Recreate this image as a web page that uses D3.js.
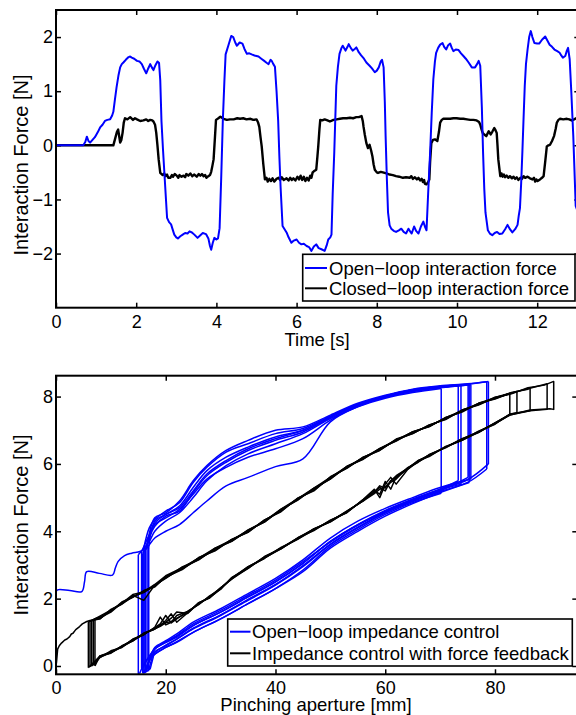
<!DOCTYPE html>
<html>
<head>
<meta charset="utf-8">
<script src="https://cdn.jsdelivr.net/npm/d3@7/dist/d3.min.js"></script>
<style>
  html, body { margin: 0; padding: 0; background: #fff; }
  svg { display: block; font-family: "Liberation Sans", Arial, Helvetica, sans-serif; }
</style>
</head>
<body>
<svg id="fig" width="576" height="715"></svg>
<script>
// ---------------- Upper panel: interaction force over time ----------------
const timeTicks = [0, 2, 4, 6, 8, 10, 12];
const forceTicksTop = [-2, -1, 0, 1, 2];
const topLegend = ["Open\u2212loop interaction force", "Closed\u2212loop interaction force"];

// [time s, force N]
const openLoopForce = [
  [0,0],[0.68,0],[0.73,0.06],[0.77,0.16],[0.81,0.08],[0.85,0.05],[0.91,0.1],[0.97,0.15],[1.04,0.24],[1.10,0.33],
  [1.16,0.38],[1.22,0.45],[1.28,0.47],[1.35,0.48],[1.40,0.55],[1.43,0.62],[1.47,0.85],[1.51,1.07],[1.56,1.3],[1.60,1.44],
  [1.64,1.5],[1.68,1.53],[1.74,1.58],[1.81,1.63],[1.85,1.64],[1.89,1.62],[1.95,1.6],[2.02,1.56],[2.08,1.55],[2.14,1.5],
  [2.19,1.42],[2.25,1.33],[2.30,1.42],[2.35,1.50],[2.39,1.44],[2.43,1.39],[2.48,1.48],[2.53,1.55],[2.57,1.52],[2.60,1.2],
  [2.63,0.45],[2.67,-0.1],[2.71,-0.6],[2.77,-1.34],[2.82,-1.42],[2.87,-1.46],[2.92,-1.58],[2.95,-1.65],[3.0,-1.7],[3.04,-1.72],
  [3.10,-1.68],[3.16,-1.65],[3.22,-1.62],[3.28,-1.63],[3.33,-1.59],[3.39,-1.61],[3.45,-1.65],[3.53,-1.71],[3.60,-1.66],[3.66,-1.62],
  [3.74,-1.64],[3.80,-1.72],[3.84,-1.86],[3.87,-1.93],[3.91,-1.8],[3.95,-1.71],[4.0,-1.74],[4.04,-1.72],[4.08,-1.53],[4.12,-0.6],
  [4.16,0.45],[4.20,1.2],[4.23,1.68],[4.30,1.85],[4.37,2.02],[4.42,2.0],[4.47,1.9],[4.51,1.84],[4.58,1.9],[4.65,1.88],
  [4.70,1.78],[4.76,1.69],[4.82,1.7],[4.88,1.68],[4.95,1.66],[5.05,1.64],[5.12,1.6],[5.21,1.55],[5.26,1.52],[5.30,1.50],
  [5.35,1.58],[5.38,1.56],[5.42,1.5],[5.46,1.45],[5.50,1.0],[5.54,0.46],[5.57,-0.2],[5.60,-0.76],[5.65,-1.49],[5.70,-1.55],
  [5.75,-1.61],[5.80,-1.7],[5.87,-1.8],[5.93,-1.76],[6.0,-1.74],[6.06,-1.8],[6.12,-1.83],[6.18,-1.82],[6.25,-1.86],[6.31,-1.88],
  [6.37,-1.95],[6.43,-1.87],[6.49,-1.83],[6.55,-1.9],[6.62,-1.92],[6.70,-1.95],[6.75,-1.85],[6.79,-1.74],[6.84,-1.7],[6.87,-1.65],
  [6.90,-0.9],[6.94,-0.12],[6.99,1.1],[7.03,1.45],[7.07,1.69],[7.12,1.8],[7.15,1.84],[7.22,1.75],[7.27,1.82],[7.30,1.87],
  [7.35,1.8],[7.40,1.75],[7.45,1.78],[7.49,1.81],[7.55,1.72],[7.61,1.66],[7.68,1.6],[7.74,1.53],[7.82,1.47],[7.88,1.42],
  [7.95,1.35],[8.0,1.38],[8.05,1.44],[8.10,1.55],[8.13,1.58],[8.17,1.44],[8.20,0.8],[8.22,0.17],[8.25,-0.6],[8.28,-1.24],
  [8.32,-1.48],[8.36,-1.54],[8.42,-1.58],[8.48,-1.6],[8.55,-1.57],[8.61,-1.54],[8.67,-1.6],[8.73,-1.63],[8.79,-1.54],[8.84,-1.6],
  [8.87,-1.63],[8.93,-1.5],[8.98,-1.58],[9.04,-1.63],[9.10,-1.5],[9.16,-1.41],[9.20,-1.5],[9.24,-1.57],[9.28,-0.9],[9.33,-0.13],
  [9.37,0.6],[9.41,1.22],[9.45,1.55],[9.48,1.71],[9.53,1.8],[9.58,1.86],[9.64,1.89],[9.68,1.82],[9.73,1.77],[9.78,1.85],
  [9.83,1.88],[9.87,1.8],[9.91,1.74],[9.97,1.77],[10.04,1.76],[10.10,1.7],[10.16,1.65],[10.22,1.6],[10.29,1.53],[10.37,1.44],
  [10.45,1.44],[10.50,1.5],[10.54,1.56],[10.58,1.47],[10.62,0.7],[10.65,-0.13],[10.68,-0.8],[10.71,-1.24],[10.77,-1.57],[10.82,-1.63],
  [10.88,-1.66],[10.94,-1.62],[11.0,-1.6],[11.06,-1.64],[11.13,-1.63],[11.20,-1.55],[11.26,-1.47],[11.32,-1.55],[11.38,-1.61],[11.45,-1.55],
  [11.51,-1.47],[11.54,-1.3],[11.57,-1.16],[11.60,-0.7],[11.63,-0.13],[11.66,0.5],[11.69,1.1],[11.72,1.5],[11.76,1.77],[11.80,2.0],
  [11.84,2.11],[11.88,2.0],[11.93,1.89],[12.0,1.88],[12.05,1.88],[12.12,1.95],[12.20,2.01],[12.25,1.94],[12.31,1.86],[12.37,1.82],
  [12.43,1.77],[12.50,1.74],[12.56,1.71],[12.60,1.66],[12.64,1.62],[12.70,1.65],[12.74,1.75],[12.77,1.8],[12.81,1.59],[12.85,1.0],
  [12.90,0.17],[12.96,-1.12],[13.05,-1.3]
];

const closedLoopForce = [
  [0,0],[1.43,0],[1.47,0.11],[1.52,0.25],[1.55,0.29],[1.58,0.15],[1.60,0.05],[1.63,0.1],[1.66,0.23],[1.69,0.42],
  [1.72,0.5],[1.78,0.48],[1.85,0.52],[1.92,0.47],[1.97,0.5],[2.02,0.48],[2.10,0.45],[2.18,0.46],[2.25,0.48],[2.30,0.45],
  [2.35,0.47],[2.40,0.46],[2.43,0.44],[2.47,0.38],[2.50,0.23],[2.53,0.0],[2.56,-0.26],[2.60,-0.51],[2.66,-0.55],[2.70,-0.52],
  [2.73,-0.57],[2.77,-0.54],[2.80,-0.6],[2.85,-0.6],[2.89,-0.55],[2.92,-0.58],[2.96,-0.53],[3.01,-0.56],[3.05,-0.6],[3.08,-0.55],
  [3.13,-0.58],[3.18,-0.56],[3.22,-0.59],[3.25,-0.53],[3.30,-0.56],[3.35,-0.52],[3.40,-0.57],[3.45,-0.54],[3.51,-0.58],[3.56,-0.53],
  [3.60,-0.56],[3.64,-0.53],[3.68,-0.57],[3.72,-0.55],[3.75,-0.6],[3.80,-0.57],[3.84,-0.55],[3.87,-0.49],[3.90,-0.38],[3.93,-0.26],
  [3.96,0.1],[3.99,0.47],[4.05,0.5],[4.10,0.53],[4.18,0.49],[4.26,0.47],[4.34,0.48],[4.43,0.48],[4.52,0.5],[4.59,0.49],
  [4.67,0.5],[4.75,0.48],[4.85,0.49],[4.92,0.47],[5.0,0.48],[5.04,0.42],[5.07,0.34],[5.10,0.15],[5.13,-0.02],[5.17,-0.35],
  [5.21,-0.63],[5.25,-0.6],[5.28,-0.67],[5.32,-0.62],[5.36,-0.66],[5.40,-0.61],[5.44,-0.67],[5.50,-0.62],[5.55,-0.6],[5.59,-0.64],
  [5.63,-0.59],[5.68,-0.64],[5.75,-0.61],[5.80,-0.65],[5.84,-0.6],[5.88,-0.64],[5.92,-0.61],[5.97,-0.65],[6.02,-0.58],[6.06,-0.63],
  [6.10,-0.56],[6.14,-0.64],[6.18,-0.58],[6.22,-0.66],[6.26,-0.6],[6.30,-0.65],[6.34,-0.56],[6.37,-0.6],[6.40,-0.5],[6.43,-0.48],
  [6.49,-0.45],[6.52,-0.2],[6.54,-0.02],[6.57,0.3],[6.59,0.47],[6.64,0.46],[6.70,0.48],[6.77,0.46],[6.83,0.44],[6.92,0.47],
  [7.0,0.48],[7.08,0.49],[7.16,0.5],[7.25,0.5],[7.33,0.51],[7.41,0.5],[7.49,0.52],[7.55,0.52],[7.62,0.54],[7.65,0.45],
  [7.67,0.34],[7.70,0.2],[7.74,0.04],[7.78,-0.05],[7.82,0.01],[7.86,-0.1],[7.89,-0.2],[7.92,-0.35],[7.95,-0.45],[8.0,-0.5],
  [8.03,-0.51],[8.10,-0.49],[8.15,-0.5],[8.24,-0.52],[8.32,-0.54],[8.40,-0.55],[8.48,-0.57],[8.56,-0.58],[8.65,-0.6],[8.73,-0.59],
  [8.82,-0.6],[8.86,-0.57],[8.90,-0.62],[8.95,-0.59],[9.0,-0.63],[9.04,-0.6],[9.08,-0.65],[9.12,-0.62],[9.15,-0.68],[9.18,-0.64],
  [9.20,-0.71],[9.24,-0.72],[9.28,-0.68],[9.31,-0.63],[9.33,-0.3],[9.36,0.04],[9.40,0.1],[9.45,0.11],[9.51,0.08],[9.55,0.25],
  [9.58,0.42],[9.62,0.47],[9.66,0.49],[9.75,0.49],[9.83,0.49],[9.91,0.5],[9.99,0.5],[10.08,0.49],[10.16,0.49],[10.25,0.48],
  [10.33,0.47],[10.41,0.47],[10.49,0.46],[10.55,0.43],[10.58,0.38],[10.61,0.3],[10.64,0.23],[10.68,0.2],[10.73,0.17],[10.79,0.26],
  [10.84,0.2],[10.88,0.25],[10.93,0.32],[10.96,0.28],[10.99,0.23],[11.01,0.0],[11.03,-0.26],[11.06,-0.45],[11.08,-0.57],[11.11,-0.52],
  [11.14,-0.58],[11.17,-0.54],[11.20,-0.59],[11.24,-0.56],[11.28,-0.6],[11.32,-0.57],[11.37,-0.61],[11.41,-0.58],[11.45,-0.62],[11.49,-0.59],
  [11.53,-0.64],[11.58,-0.6],[11.62,-0.62],[11.66,-0.57],[11.70,-0.6],[11.76,-0.58],[11.82,-0.61],[11.88,-0.63],[11.92,-0.6],[11.95,-0.67],
  [11.98,-0.63],[12.01,-0.66],[12.07,-0.63],[12.12,-0.6],[12.16,-0.57],[12.20,-0.3],[12.24,-0.02],[12.28,0.0],[12.32,0.01],[12.37,0.08],
  [12.42,0.17],[12.46,0.3],[12.49,0.42],[12.53,0.47],[12.57,0.49],[12.65,0.48],[12.74,0.49],[12.80,0.48],[12.86,0.46],[12.92,0.48],
  [12.97,0.5],[13.05,0.48]
];

// ---------------- Lower panel: force vs pinching aperture ----------------
const apertureTicks = [0, 20, 40, 60, 80];
const forceTicksBottom = [0, 2, 4, 6, 8];
const bottomLegend = ["Open\u2212loop impedance control", "Impedance control with force feedback"];
const seriesColors = ["#0000ff", "#000000"];

// open-loop impedance control: first approach, then repeated pinch cycles
const openApproach = [[0,0],[0,2.2],[0.3,2.26],[2.5,2.24],[4.7,2.21],[5.2,2.5],[5.6,2.8],[7.9,2.75],[10.3,2.7],
  [10.8,2.9],[11.3,3.1],[12.5,3.28],[13.8,3.35],[15.3,3.4],[16.3,3.5]];
const openLoadP   = [17, 18, 20, 22.5, 25, 27.5, 31, 35, 40, 45, 50, 55, 60, 65, 70, 75, 79];
const openUnloadP = [75, 70, 65, 60, 55, 50, 45, 40, 35, 30, 25, 22, 20, 18];
const openMin    = [15.0, 15.6, 16.0, 16.3, 16.6, 15.8, 16.9, 16.2];
const openBottom = [-0.22, -0.05, -0.2, -0.05, -0.15, -0.2, -0.1, -0.18];
const openRise   = [3.3, 3.4, 3.5, 3.45, 3.5, 3.35, 3.5, 3.4];
const openMax    = [70.2, 73.3, 75.1, 75.6, 78.8, 75.3, 78.5, 73.8];
const openTop    = [8.24, 8.33, 8.36, 8.36, 8.45, 8.35, 8.44, 8.34];
const openDrop   = [5.13, 5.5, 5.6, 5.55, 6.0, 5.45, 5.85, 5.4];
const openEndP   = [16.5, 17.0, 17.2, 17.4, 17.6, 17.0, 17.7, 17.3];
const openEndF   = [0.18, 0.3, 0.22, 0.35, 0.3, 0.15, 0.25, 0.32];
const openLoad = [
  [3.7, 4.0, 4.3, 4.55, 5.0, 5.5, 5.95, 6.3, 6.6, 6.9, 7.35, 7.7, 7.95, 8.12, 8.22],
  [3.9, 4.25, 4.5, 4.75, 5.3, 5.8, 6.2, 6.5, 6.8, 7.0, 7.4, 7.75, 8.0, 8.18, 8.28],
  [4.1, 4.35, 4.6, 4.85, 5.45, 5.9, 6.35, 6.6, 6.9, 7.05, 7.42, 7.78, 8.02, 8.2, 8.3, 8.35],
  [3.8, 4.15, 4.45, 4.6, 5.15, 5.65, 6.05, 6.4, 6.7, 6.95, 7.38, 7.74, 8.0, 8.17, 8.27, 8.34],
  [4.2, 4.4, 4.55, 4.9, 5.5, 5.95, 6.4, 6.7, 7.0, 7.1, 7.45, 7.8, 8.04, 8.22, 8.32, 8.38, 8.44],
  [3.6, 3.8, 4.0, 4.2, 4.55, 4.9, 5.35, 5.6, 5.92, 6.15, 7.25, 7.7, 7.98, 8.15, 8.26, 8.33],
  [4.0, 4.3, 4.5, 4.7, 5.2, 5.7, 6.1, 6.45, 6.75, 7.0, 7.4, 7.76, 8.02, 8.2, 8.3, 8.37, 8.43],
  [3.85, 4.2, 4.4, 4.65, 5.1, 5.55, 5.9, 6.2, 6.45, 6.75, 7.3, 7.72, 7.98, 8.16, 8.27]
];
const openUnload = [
  [null, null, 4.85, 4.5, 4.05, 3.55, 2.85, 2.3, 1.85, 1.4, 1.0, 0.7, 0.55, 0.35],
  [null, 5.25, 4.95, 4.6, 4.2, 3.7, 3.05, 2.5, 2.05, 1.6, 1.2, 0.85, 0.7, 0.5],
  [null, 5.2, 4.9, 4.55, 4.1, 3.6, 2.95, 2.4, 1.95, 1.5, 1.1, 0.8, 0.62, 0.4],
  [null, 5.3, 5.0, 4.68, 4.3, 3.8, 3.15, 2.6, 2.15, 1.7, 1.3, 0.95, 0.75, 0.55],
  [5.53, 5.25, 4.95, 4.62, 4.2, 3.7, 3.05, 2.5, 2.05, 1.6, 1.2, 0.88, 0.7, 0.5],
  [null, 5.15, 4.82, 4.45, 4.0, 3.5, 2.8, 2.3, 1.85, 1.4, 1.0, 0.72, 0.55, 0.35],
  [5.45, 5.18, 4.88, 4.55, 4.12, 3.62, 2.98, 2.42, 1.98, 1.52, 1.12, 0.8, 0.6, 0.42],
  [null, 5.22, 4.93, 4.58, 4.18, 3.68, 3.1, 2.55, 2.1, 1.65, 1.25, 0.9, 0.72, 0.52]
];

// impedance control with force feedback: first approach, then pinch cycles
const closedApproach = [[0,0],[0.1,0.12],[0.3,0.5],[0.6,0.6],[1.0,0.68],[1.6,0.77],[2.0,0.8],[2.5,0.87],[2.8,0.95],
  [3.1,0.97],[3.6,1.08],[4.3,1.17],[4.8,1.25],[5.6,1.32],[6.2,1.35],[6.8,1.37]];
const closedUpP  = [6, 8, 10, 12, 14, 16, 18, 20, 23, 26, 29, 32, 35, 38, 41, 44, 47, 50, 53, 56, 59, 62, 65, 68, 71, 74, 77, 80, 83, 86, 89, 90.7];
const closedLowP = [6.5, 8, 10, 12, 14, 16, 18, 19, 20, 21, 22, 24, 26, 28, 30, 32, 35, 38, 41, 44, 47, 50, 53, 56, 58, 59, 60, 61, 62, 64, 66, 68, 71, 74, 77, 80, 82.7, 86.4, 90];
const closedMin      = [6.2, 6.8, 7.1, 5.9, 6.5];
const closedMax      = [82.7, 86.4, 90.7, 84.0, 89.5];
const closedUpStart  = [1.32, 1.38, 1.4, 1.3, 1.34];
const closedLowStart = [-0.02, 0.02, 0.0, -0.05, 0.0];
const closedUpEnd    = [8.1, 8.25, 8.45, 8.15, 8.38];
const closedLowEnd   = [7.46, 7.58, 7.62, 7.52, 7.62];
const closedUpper = [
  [1.3, 1.45, 1.62, 1.9, 2.05, 2.22, 2.35, 2.66, 2.88, 3.2, 3.44, 3.75, 3.98, 4.33, 4.6, 4.97, 5.22, 5.6, 5.88, 6.2, 6.41, 6.72, 6.9, 7.15, 7.33, 7.6, 7.75, 7.97, 8.08],
  [1.32, 1.4, 1.68, 1.84, 2.1, 1.95, 2.4, 2.6, 2.94, 3.15, 3.5, 3.7, 4.04, 4.27, 4.65, 4.92, 5.28, 5.55, 5.93, 6.14, 6.46, 6.68, 6.96, 7.1, 7.38, 7.54, 7.8, 7.93, 8.12, 8.22],
  [1.28, 1.43, 1.6, 1.88, 2.04, 2.24, 2.36, 2.64, 2.86, 3.22, 3.42, 3.76, 3.97, 4.34, 4.58, 4.98, 5.2, 5.62, 5.87, 6.2, 6.4, 6.74, 6.9, 7.16, 7.32, 7.6, 7.76, 7.98, 8.08, 8.26, 8.34, 8.44],
  [1.34, 1.48, 1.66, 1.86, 2.12, 2.2, 2.42, 2.68, 2.92, 3.2, 3.5, 3.74, 4.03, 4.3, 4.66, 4.96, 5.28, 5.6, 5.92, 6.18, 6.45, 6.71, 6.95, 7.12, 7.37, 7.58, 7.8, 7.96, 8.1],
  [1.3, 1.4, 1.65, 1.84, 2.06, 2.18, 2.4, 2.62, 2.9, 3.16, 3.48, 3.7, 4.02, 4.28, 4.64, 4.93, 5.26, 5.56, 5.91, 6.15, 6.44, 6.69, 6.94, 7.12, 7.36, 7.56, 7.79, 7.94, 8.11, 8.23, 8.36]
];
const closedLower = [
  [0.02, 0.3, 0.38, 0.6, 0.74, 0.98, 1.1, 1.18, 1.28, 1.32, 1.42, 1.58, 1.88, 2.02, 2.32, 2.58, 2.95, 3.2, 3.52, 3.76, 4.08, 4.28, 4.6, 4.9, 5.12, 5.25, 5.32, 5.45, 5.55, 5.88, 6.05, 6.28, 6.48, 6.75, 6.93, 7.22, 7.44],
  [-0.02, 0.25, 0.45, 0.55, 0.8, 0.92, 1.15, 1.45, 1.22, 1.3, 1.5, 1.62, 1.82, 2.08, 2.28, 2.62, 2.9, 3.25, 3.48, 3.8, 4.02, 4.33, 4.55, 4.95, 5.25, 5.0, 5.4, 5.6, 5.4, 5.82, 6.1, 6.22, 6.52, 6.7, 6.97, 7.18, 7.48, 7.56],
  [0.0, 0.3, 0.42, 0.58, 0.78, 0.96, 1.1, 1.2, 1.35, 1.55, 1.3, 1.58, 1.86, 2.04, 2.3, 2.6, 2.93, 3.2, 3.5, 3.8, 4.06, 4.3, 4.6, 4.9, 5.18, 5.3, 5.2, 5.5, 5.65, 5.86, 6.08, 6.26, 6.5, 6.72, 6.95, 7.2, 7.45, 7.6, 7.64],
  [0.05, 0.28, 0.4, 0.56, 0.75, 0.94, 1.14, 1.25, 1.5, 1.28, 1.4, 1.62, 1.84, 2.06, 2.32, 2.58, 2.9, 3.24, 3.5, 3.76, 4.04, 4.32, 4.56, 4.94, 5.15, 5.35, 5.28, 5.5, 5.6, 5.84, 6.06, 6.24, 6.5, 6.7, 6.94, 7.22, 7.47],
  [-0.03, 0.26, 0.4, 0.58, 0.76, 0.96, 1.1, 1.22, 1.3, 1.42, 1.6, 1.56, 1.87, 2.03, 2.28, 2.62, 2.94, 3.21, 3.48, 3.79, 4.06, 4.28, 4.58, 4.92, 5.22, 5.1, 5.48, 5.25, 5.62, 5.86, 6.1, 6.26, 6.5, 6.74, 6.96, 7.2, 7.45, 7.58, 7.63]
];

// ---------------- drawing ----------------
const svg = d3.select("#fig");
const fmt = d3.format("d");

function frame(g, x, y, xt, yt, id) {
  const [l, r] = x.range();
  const [b, t] = y.range();
  g.append("clipPath").attr("id", id).append("rect")
    .attr("x", l).attr("y", t).attr("width", r - l).attr("height", b - t);

  const styleAxis = s => {
    s.select(".domain").remove();
    s.attr("font-size", 18).attr("font-family", null);
    s.selectAll(".tick line").attr("stroke", "#000").attr("stroke-width", 1.5);
    s.selectAll(".tick text").attr("fill", "#000");
  };
  g.append("g").attr("transform", `translate(0,${b})`)
    .call(d3.axisBottom(x).tickValues(xt).tickFormat(fmt).tickSize(-5).tickSizeOuter(0).tickPadding(7.3)).call(styleAxis);
  g.append("g").attr("transform", `translate(0,${t})`)
    .call(d3.axisTop(x).tickValues(xt).tickFormat(() => "").tickSize(-5).tickSizeOuter(0)).call(styleAxis);
  g.append("g").attr("transform", `translate(${l},0)`)
    .call(d3.axisLeft(y).tickValues(yt).tickFormat(fmt).tickSize(-5).tickSizeOuter(0).tickPadding(3)).call(styleAxis);
  g.append("g").attr("transform", `translate(${r},0)`)
    .call(d3.axisRight(y).tickValues(yt).tickFormat(() => "").tickSize(-5).tickSizeOuter(0)).call(styleAxis);
}

function box(g, x, y) {
  const [l, r] = x.range();
  const [b, t] = y.range();
  g.append("rect").attr("x", l).attr("y", t).attr("width", r - l).attr("height", b - t)
    .attr("fill", "none").attr("stroke", "#000").attr("stroke-width", 2);
}

function legend(g, x0, y0, w, h, rows, lineX0, lineX1, textX, labels) {
  g.append("rect").attr("x", x0).attr("y", y0).attr("width", w).attr("height", h)
    .attr("fill", "#fff").attr("stroke", "#000").attr("stroke-width", 1.6);
  labels.forEach((lab, i) => {
    g.append("line").attr("x1", lineX0).attr("x2", lineX1).attr("y1", rows[i]).attr("y2", rows[i])
      .attr("stroke", seriesColors[i]).attr("stroke-width", 2);
    g.append("text").attr("x", textX).attr("y", rows[i] + 6.6).attr("font-size", 18.5).attr("fill", "#000").text(lab);
  });
}

// ---- upper panel ----
{
  const x = d3.scaleLinear().domain([0, 13.05]).range([56, 579.3]);
  const y = d3.scaleLinear().domain([-3, 2.5]).range([307.7, 10]);
  const g = svg.append("g");
  frame(g, x, y, timeTicks, forceTicksTop, "clipTop");
  const line = d3.line().x(d => x(d[0])).y(d => y(d[1]));
  const plot = g.append("g").attr("clip-path", "url(#clipTop)");
  plot.append("path").datum(closedLoopForce).attr("d", line).attr("fill", "none")
    .attr("stroke", seriesColors[1]).attr("stroke-width", 2.4).attr("stroke-linejoin", "round");
  plot.append("path").datum(openLoopForce).attr("d", line).attr("fill", "none")
    .attr("stroke", seriesColors[0]).attr("stroke-width", 2).attr("stroke-linejoin", "round");
  box(g, x, y);
  g.append("text").attr("x", 317).attr("y", 345.5).attr("text-anchor", "middle")
    .attr("font-size", 18.5).text("Time [s]");
  g.append("text").attr("transform", "translate(28,165) rotate(-90)").attr("text-anchor", "middle")
    .attr("font-size", 20).text("Interaction Force [N]");
  legend(g, 302.7, 254.3, 272.3, 46.7, [268, 288.3], 305, 327, 329, topLegend);
}

// ---- lower panel ----
{
  const x = d3.scaleLinear().domain([0, 95]).range([56, 577.3]);
  const y = d3.scaleLinear().domain([-0.247, 8.62]).range([674.3, 375.7]);
  const g = svg.append("g");
  frame(g, x, y, apertureTicks, forceTicksBottom, "clipBottom");
  const straight = d3.line().x(d => x(d[0])).y(d => y(d[1]));
  const smooth = d3.line().x(d => x(d[0])).y(d => y(d[1])).curve(d3.curveCatmullRom.alpha(0.5));
  const plot = g.append("g").attr("clip-path", "url(#clipBottom)")
    .attr("fill", "none").attr("stroke-width", 1.5).attr("stroke-linejoin", "round");

  const blue = plot.append("g").attr("stroke", seriesColors[0]);
  blue.append("path").datum(openApproach.slice(0, 2)).attr("d", straight);
  blue.append("path").datum(openApproach.slice(1)).attr("d", smooth);
  openMin.forEach((pMin, i) => {
    const pMax = openMax[i];
    const load = [[pMin, openRise[i]]];
    openLoadP.forEach((p, k) => {
      const f = openLoad[i][k];
      if (f != null && p > pMin + 0.4 && p < pMax - 0.5) load.push([p, f]);
    });
    load.push([pMax, openTop[i]]);
    const unload = [[pMax, openDrop[i]]];
    openUnloadP.forEach((p, k) => {
      const f = openUnload[i][k];
      if (f != null && p < pMax - 1.5) unload.push([p, f]);
    });
    unload.push([openEndP[i], openEndF[i]], [pMin + 0.25, openBottom[i]]);
    blue.append("path").datum([[pMin + 0.25, openBottom[i]], [pMin, openBottom[i]], [pMin, openRise[i]]]).attr("d", straight);
    blue.append("path").datum(load).attr("d", smooth);
    blue.append("path").datum([[pMax, openTop[i]], [pMax, openDrop[i]]]).attr("d", straight);
    blue.append("path").datum(unload).attr("d", smooth);
  });

  const black = plot.append("g").attr("stroke", seriesColors[1]);
  black.append("path").datum(closedApproach).attr("d", straight);
  closedMin.forEach((pMin, i) => {
    const pMax = closedMax[i];
    const pts = [[pMin, closedLowStart[i]], [pMin, closedUpStart[i]]];
    closedUpP.forEach((p, k) => {
      const f = closedUpper[i][k];
      if (f != null && p > pMin + 0.3 && p < pMax - 0.3) pts.push([p, f]);
    });
    pts.push([pMax, closedUpEnd[i]], [pMax, closedLowEnd[i]]);
    const low = [];
    closedLowP.forEach((p, k) => {
      const f = closedLower[i][k];
      if (f != null && p > pMin + 0.2 && p < pMax - 0.2) low.push([p, f]);
    });
    low.reverse().forEach(d => pts.push(d));
    pts.push([pMin, closedLowStart[i]]);
    black.append("path").datum(pts).attr("d", straight);
  });

  box(g, x, y);
  g.append("text").attr("x", 316).attr("y", 710.5).attr("text-anchor", "middle")
    .attr("font-size", 18.5).text("Pinching aperture [mm]");
  g.append("text").attr("transform", "translate(28,525) rotate(-90)").attr("text-anchor", "middle")
    .attr("font-size", 20).text("Interaction Force [N]");
  legend(g, 227.7, 619, 344.6, 47, [631.7, 653.3], 230, 250.5, 252, bottomLegend);
}
</script>
</body>
</html>
